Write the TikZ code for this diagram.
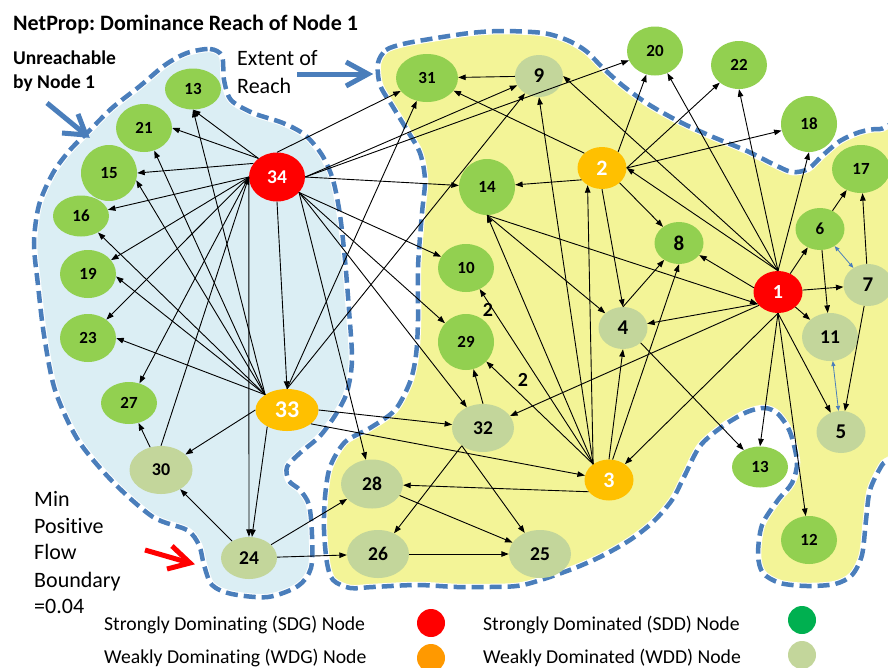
\documentclass[tikz,border=0pt]{standalone}
\usepackage{fontspec}
\setmainfont{Carlito}[Ligatures={NoCommon,NoContextual}]
\usetikzlibrary{arrows.meta,shapes.geometric}
\definecolor{sddfill}{HTML}{92D050}
\definecolor{wddfill}{HTML}{C3D69B}
\definecolor{sdgfill}{HTML}{FF0000}
\definecolor{wdgfill}{HTML}{FFC000}
\definecolor{lgsdd}{HTML}{00B050}
\definecolor{lgwdg}{HTML}{FF9900}
\definecolor{bluereg}{HTML}{DBEEF4}
\definecolor{yellowreg}{HTML}{F3F497}
\definecolor{bordercol}{HTML}{4A7EBB}
\frenchspacing
\tikzset{
  nd/.style={ellipse, inner sep=0pt},
  sdd/.style={nd, fill=sddfill},
  wdd/.style={nd, fill=wddfill},
  sdg/.style={nd, fill=sdgfill, text=white},
  wdg/.style={nd, fill=wdgfill, text=white},
  sz/.style n args={3}{minimum width=#1pt, minimum height=#2pt,
      font=\bfseries\fontsize{#3}{#3}\selectfont},
  ed/.style={-{Triangle[length=7.5pt,width=5.5pt]}, line width=0.9pt, black},
  twoway/.style={{Triangle[length=5pt,width=4pt]}-{Triangle[length=5pt,width=4pt]},
      line width=0.8pt, bordercol},
  region/.style={draw=white, line width=6.5pt,
      postaction={draw=bordercol, line width=4.5pt, dash pattern=on 12pt off 6pt}},
  annot/.style={line width=5pt, line join=miter},
  txt/.style={anchor=base west, inner sep=0pt, font=\fontsize{22}{26}\selectfont},
  btxt/.style={anchor=base west, inner sep=0pt, font=\bfseries\fontsize{19.5}{22}\selectfont},
  lgtxt/.style={anchor=base west, inner sep=0pt, font=\fontsize{19.7}{22}\selectfont},
  lgdot/.style={circle, inner sep=0pt, minimum size=28pt},
  elab/.style={inner sep=0pt, font=\bfseries\fontsize{20}{20}\selectfont},
}
\begin{document}
\begin{tikzpicture}[x=1pt,y=-1pt]
\useasboundingbox (0,0) rectangle (888,667);
\clip (0,0) rectangle (888,667);

% ---------- regions ----------
\path[fill=bluereg, region] plot[smooth cycle] coordinates {
 (187,53) (210,49) (222,56) (224,80) (231,100) (253,113) (283,123) (305,135)
 (322,155) (333,180) (340,215) (345,260) (349,310) (352,360) (347,392)
 (336,414) (320,436) (300,453) (287,467) (289,481) (300,490) (309,505)
 (312,535) (311,568) (298,586) (268,597) (232,594) (212,585) (204,565)
 (199,545) (187,530) (153,517) (113,482) (78,440) (55,390) (44,335)
 (38,285) (34,243) (39,205) (53,173) (70,150) (90,130) (112,108) (140,86) (165,65)};

\path[fill=yellowreg, region] plot[smooth cycle] coordinates {
 (378,63) (386,50) (403,44) (430,39) (470,33) (503,31) (543,33) (567,40)
 (586,51) (602,67) (622,85) (648,104) (680,122) (713,137) (747,151)
 (773,164) (792,172) (808,169) (822,156) (840,141) (860,132) (880,129)
 (905,135) (915,300) (900,440) (882,465) (870,490) (866,520) (862,555)
 (852,575) (835,584) (807,586) (780,583) (763,573) (758,555) (762,525)
 (778,500) (792,483) (797,462) (790,432) (778,414) (765,408) (747,412)
 (723,426) (700,446) (684,477) (672,500) (653,522) (630,540) (600,557)
 (567,571) (523,585) (490,587) (457,587) (417,585) (373,587) (350,588)
 (333,580) (327,563) (324,530) (325,497) (330,467) (345,442) (370,428)
 (395,410) (410,382) (416,355) (418,320) (418,267) (422,213) (425,180)
 (420,153) (407,130) (393,107) (380,85)};

% ---------- nodes ----------
\node[sdg, sz={56}{49}{19.5}] (n34) at (277,177) {34};
\node[wdg, sz={63}{42}{24}] (n33) at (287,410) {33};
\node[sdd, sz={56}{41}{17}] (n13a) at (193,89) {13};
\node[sdd, sz={56}{48}{17}] (n21) at (144,128) {21};
\node[sdd, sz={56}{56}{17}] (n15) at (109,173) {15};
\node[sdd, sz={56}{41}{17}] (n16) at (81,216) {16};
\node[sdd, sz={56}{48}{17}] (n19) at (88,274) {19};
\node[sdd, sz={56}{48}{17}] (n23) at (88,338) {23};
\node[sdd, sz={56}{42}{17}] (n27) at (129,403) {27};
\node[wdd, sz={63}{48}{18}] (n30) at (161,470) {30};
\node[wdd, sz={56}{42}{19.5}] (n24) at (249,558) {24};
\node[sdd, sz={62}{48}{17}] (n31) at (427,78) {31};
\node[wdd, sz={48}{42}{21}] (n9) at (539,76) {9};
\node[sdd, sz={56}{49}{17}] (n20) at (655,51) {20};
\node[sdd, sz={56}{48}{17}] (n22) at (739,65) {22};
\node[sdd, sz={56}{56}{17}] (n18) at (809,124) {18};
\node[sdd, sz={58}{48}{17}] (n17) at (861,169) {17};
\node[wdg, sz={49}{42}{22}] (n2) at (602,168) {2};
\node[sdd, sz={56}{56}{17}] (n14) at (487,187) {14};
\node[sdd, sz={49}{42}{21}] (n8) at (679,243) {8};
\node[sdd, sz={49}{42}{17}] (n6) at (820,229) {6};
\node[wdd, sz={49}{42}{21}] (n7) at (868,285) {7};
\node[sdg, sz={49}{42}{20}] (n1) at (778,292) {1};
\node[wdd, sz={56}{48}{19.5}] (n11) at (830,337) {11};
\node[wdd, sz={49}{42}{21}] (n5) at (841,432) {5};
\node[sdd, sz={56}{48}{17}] (n10) at (466,268) {10};
\node[sdd, sz={56}{56}{17}] (n29) at (466,342) {29};
\node[wdd, sz={49}{42}{21}] (n4) at (623,328) {4};
\node[wdd, sz={62}{48}{19.5}] (n32) at (483,428) {32};
\node[wdg, sz={49}{41}{22}] (n3) at (609,480) {3};
\node[sdd, sz={56}{41}{17}] (n13b) at (760,467) {13};
\node[sdd, sz={56}{48}{17}] (n12) at (809,540) {12};
\node[wdd, sz={62}{49}{19.5}] (n28) at (372,484) {28};
\node[wdd, sz={62}{48}{19.5}] (n26) at (378,554) {26};
\node[wdd, sz={62}{48}{19.5}] (n25) at (540,554) {25};

% ---------- connectors ----------
% out of 34
\draw[ed] (n34.135) -- (n13a.south);
\draw[ed] (n34.135) -- (n21.east);
\draw[ed] (n34.150) -- (n15.east);
\draw[ed] (n34.180) -- (n16);
\draw[ed] (n34.180) -- (n19);
\draw[ed] (n34.180) -- (n23);
\draw[ed] (n34.180) -- (n27);
\draw[ed] (n34.180) -- (n24);
\draw[ed] (n30.north) -- (n34.180);
\draw[ed] (n34.south) -- (n33.north);
\draw[ed] (n34.north) -- (n31);
\draw[ed] (n34.east) -- (n9);
\draw[ed] (n34.east) -- (n20);
\draw[ed] (n34.east) -- (n14);
\draw[ed] (n34.-35) -- (n10);
\draw[ed] (n34.-35) -- (n29);
\draw[ed] (n34.-35) -- (n32);
\draw[ed] (n34.-35) -- (n28);
% out of 33
\draw[ed] (n33.145) -- (n13a.south);
\draw[ed] (n33.145) -- (n21);
\draw[ed] (n33.145) -- (n15.-15);
\draw[ed] (n33.145) -- (n16);
\draw[ed] (n33.145) -- (n19.-5);
\draw[ed] (n33.145) -- (n23.east);
\draw[ed] (n33.west) -- (n30);
\draw[ed] (n33.-140) -- (n24);
\draw[ed] (n33.north) -- (n31);
\draw[ed] (n33.north) -- (n9);
\draw[ed] (n33.east) -- (n32);
\draw[ed] (n33.-30) -- (n3);
% lower left
\draw[ed] (n30) -- (n27);
\draw[ed] (n24) -- (n30);
\draw[ed] (n24) -- (n28);
\draw[ed] (n24) -- (n26);
% lower middle
\draw[ed] (n32.north) -- (n29);
\draw[ed] (n32.-140) -- (n26);
\draw[ed] (n32.-140) -- (n25);
\draw[ed] (n28) -- (n25);
\draw[ed] (n26) -- (n25);
% out of 3
\draw[ed] (n3.-150) -- (n28);
\draw[ed] (n3.135) -- (n29);
\draw[ed] (n3.135) -- (n10);
\draw[ed] (n3.135) -- (n14.south);
\draw[ed] (n3.135) -- (n9.south);
\draw[ed] (n3.135) -- (n2.-130);
\draw[ed] (n3.north) -- (n4.south);
\draw[ed] (n3.80) -- (n8.south);
% out of 2
\draw[ed] (n2.140) -- (n31);
\draw[ed] (n2.-150) -- (n14);
\draw[ed] (n2.45) -- (n20);
\draw[ed] (n2.east) -- (n22);
\draw[ed] (n2.east) -- (n18);
\draw[ed] (n2.-40) -- (n8);
\draw[ed] (n2.south) -- (n4.north);
% middle
\draw[ed] (n9) -- (n31);
\draw[ed] (n14.south) -- (n4);
\draw[ed] (n14.south) -- (n1.-150);
\draw[ed] (n4.north) -- (n8);
\draw[ed] (n4.-40) -- (n13b);
% out of 1
\draw[ed] (n1.north) -- (n2.east);
\draw[ed] (n1.north) -- (n9.east);
\draw[ed] (n1.north) -- (n20);
\draw[ed] (n1.north) -- (n22.south);
\draw[ed] (n1.north) -- (n18.south);
\draw[ed] (n1.170) -- (n8);
\draw[ed] (n1.-150) -- (n4);
\draw[ed] (n1.-145) -- (n32);
\draw[ed] (n1) -- (n6);
\draw[ed] (n1) -- (n7);
\draw[ed] (n1) -- (n11);
\draw[ed] (n1.south) -- (n5);
\draw[ed] (n1.south) -- (n12);
\draw[ed] (n1.south) -- (n13b.north);
\draw[ed] (n1.south) -- (n3.45);
% right column
\draw[ed] (n6) -- (n17);
\draw[ed] (n7) -- (n17);
\draw[ed] (n6) -- (n11);
\draw[ed] (n7) -- (n5);
\draw[twoway] (n6) -- (n7);
\draw[twoway] (n11) -- (n5);

% flow labels
\node[elab] (lab10) at (488,310) {2};
\node[elab] (lab29) at (523,380) {2};

% ---------- annotations ----------
\node[anchor=base west, inner sep=0pt, font=\bfseries\fontsize{22}{26}\selectfont]
  (title) at (13,30) {NetProp: Dominance Reach of Node 1};
\node[btxt] (un1) at (13,64) {Unreachable};
\node[btxt] (un2) at (13,88) {by Node 1};
\node[txt] (ex1) at (237,65) {Extent of};
\node[txt] (ex2) at (237,93) {Reach};
\node[txt] (mf1) at (34,506) {Min};
\node[txt] (mf2) at (34,533) {Positive};
\node[txt] (mf3) at (34,559) {Flow};
\node[txt] (mf4) at (34,587) {Boundary};
\node[txt] (mf5) at (34,613) {=0.04};

\coordinate (ua0) at (47,103);
\coordinate (ua1) at (86,135);
\coordinate (uab1) at (78,114);
\coordinate (uab2) at (62,133);
\draw[annot, bordercol] (ua0) -- (ua1);
\draw[annot, bordercol] (uab1) -- (ua1) -- (uab2);

\coordinate (ea0) at (297,74);
\coordinate (ea1) at (368,74);
\coordinate (eab1) at (346,62);
\coordinate (eab2) at (346,86);
\draw[annot, bordercol] (ea0) -- (ea1);
\draw[annot, bordercol] (eab1) -- (ea1) -- (eab2);

\coordinate (ra0) at (145,550);
\coordinate (ra1) at (190,563);
\coordinate (rab1) at (172,546);
\coordinate (rab2) at (167,569);
\draw[annot, red] (ra0) -- (ra1);
\draw[annot, red] (rab1) -- (ra1) -- (rab2);

% ---------- legend ----------
\node[lgtxt] (lg1t) at (104,630) {Strongly Dominating (SDG) Node};
\node[lgtxt] (lg2t) at (104,663) {Weakly Dominating (WDG) Node};
\node[lgtxt] (lg3t) at (483,630) {Strongly Dominated (SDD) Node};
\node[lgtxt] (lg4t) at (483,663) {Weakly Dominated (WDD) Node};
\node[lgdot, fill=sdgfill] (lg1) at (431,623) {};
\node[lgdot, fill=lgwdg] (lg2) at (431,658) {};
\node[lgdot, fill=lgsdd] (lg3) at (802,620) {};
\node[lgdot, fill=wddfill] (lg4) at (802,655) {};
\end{tikzpicture}
\end{document}
